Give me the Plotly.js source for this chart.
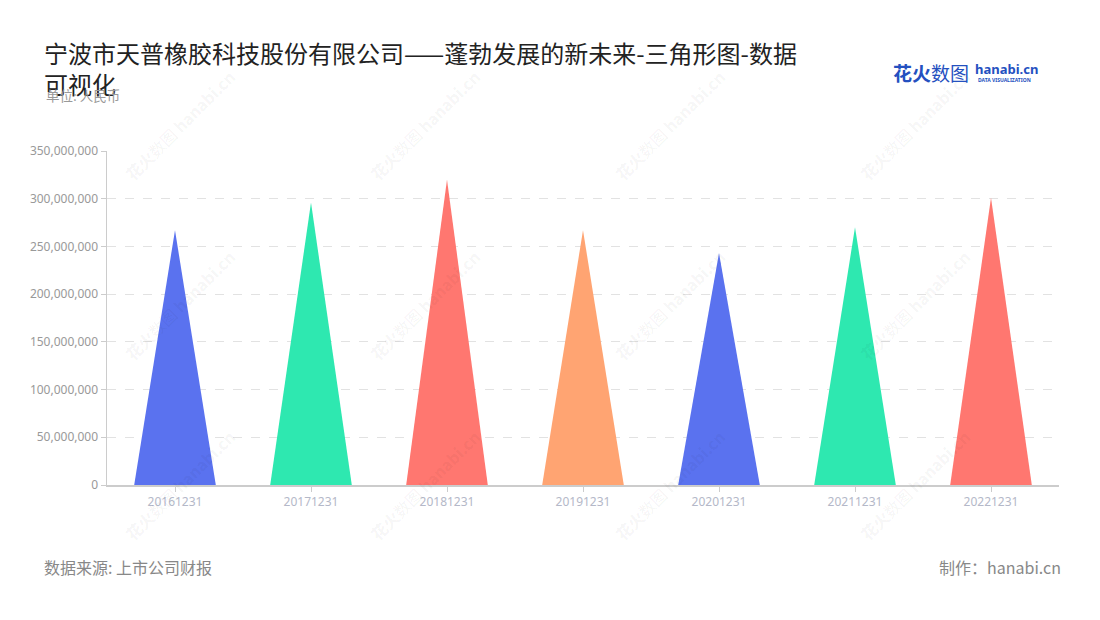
<!DOCTYPE html>
<html>
<head>
<meta charset="utf-8">
<script src="https://cdn.plot.ly/plotly-3.0.1.min.js"></script>
<style>
html,body{margin:0;padding:0;background:#fff;}
#chart{width:1100px;height:620px;}
</style>
</head>
<body>
<div id="chart"></div>
<script>
// ---- data ----
const categories = ["20161231","20171231","20181231","20191231","20201231","20211231","20221231"];
const values = [267000000, 296000000, 320000000, 267000000, 243000000, 270000000, 301000000];
const colors = ["#5a72ef","#2ee8b0","#ff7770","#ffa472","#5a72ef","#2ee8b0","#ff7770"];
const yTicks = [0,50000000,100000000,150000000,200000000,250000000,300000000,350000000];

const titleText = "宁波市天普橡胶科技股份有限公司——蓬勃发展的新未来-三角形图-数据<br>可视化";
const unitText = "单位: 人民币";
const sourceText = "数据来源: 上市公司财报";
const makerText = "制作：hanabi.cn";

// ---- layout geometry ----
const W = 1100, H = 620;
const L = 107, R = 1059, T = 151, B = 485;
const px = x => (x - L) / (R - L);
const py = y => (B - y) / (B - T);
const halfW = 0.3;

const traces = categories.map((c, i) => ({
  type: "scatter",
  mode: "lines",
  x: [i - halfW, i, i + halfW, i - halfW],
  y: [0, values[i], 0, 0],
  fill: "toself",
  fillcolor: colors[i],
  line: {width: 0, color: colors[i]},
  hoverinfo: "skip",
  showlegend: false
}));

const annotations = [];
// watermarks
const wmCols = [180, 425, 670, 915];
const wmRows = [125, 305, 485];
wmRows.forEach(r => wmCols.forEach(c => {
  annotations.push({
    xref: "paper", yref: "paper", x: px(c), y: py(r),
    text: "<b>花火</b>数图 <b>hanabi.cn</b>",
    showarrow: false, textangle: -45,
    font: {family: "Noto Sans CJK SC, Noto Sans", size: 16, color: "rgba(0,0,0,0.055)"},
    xanchor: "center", yanchor: "middle"
  });
}));
// unit
annotations.push({xref:"paper", yref:"paper", x: px(44), y: py(95), xanchor:"left", yanchor:"middle",
  text: unitText, showarrow:false, font:{family:"Noto Sans CJK SC", size:13.5, color:"#999999"}});
// footer
annotations.push({xref:"paper", yref:"paper", x: px(42), y: py(567), xanchor:"left", yanchor:"middle",
  text: sourceText, showarrow:false, font:{family:"Noto Sans CJK SC", size:16, color:"#888888"}});
annotations.push({xref:"paper", yref:"paper", x: px(1063), y: py(567), xanchor:"right", yanchor:"middle",
  text: makerText, showarrow:false, font:{family:"Noto Sans CJK SC", size:16, color:"#888888"}});
// logo
annotations.push({xref:"paper", yref:"paper", x: px(891), y: py(72), xanchor:"left", yanchor:"middle",
  text: "<b>花火</b>数图", showarrow:false, font:{family:"Noto Sans CJK SC", size:19, color:"#2450c0"}});
annotations.push({xref:"paper", yref:"paper", x: px(973), y: py(69), xanchor:"left", yanchor:"middle",
  text: "<b>hanabi.cn</b>", showarrow:false, font:{family:"Noto Sans", size:13, color:"#2450c0"}});
annotations.push({xref:"paper", yref:"paper", x: px(976), y: py(80), xanchor:"left", yanchor:"middle",
  text: "<b>DATA VISUALIZATION</b>", showarrow:false, font:{family:"Noto Sans", size:5, color:"#2450c0"}});

const layout = {
  width: W, height: H,
  paper_bgcolor: "#ffffff", plot_bgcolor: "#ffffff",
  margin: {l: L, r: W - R, t: T, b: H - B, pad: 0},
  title: {
    text: titleText, xref: "container", yref: "container",
    x: 44 / W, xanchor: "left", y: 1 - 63 / H, yanchor: "top",
    font: {family: "Noto Sans CJK SC", size: 24, color: "#222222"}
  },
  xaxis: {
    range: [-0.5, categories.length - 0.5],
    tickmode: "array", tickvals: categories.map((c, i) => i), ticktext: categories,
    showgrid: false, zeroline: false,
    showline: true, linecolor: "#cccccc", linewidth: 1.5,
    ticks: "outside", ticklen: 5, tickcolor: "#cccccc",
    tickfont: {family: "Noto Sans", size: 12, color: "#b4b8c8"},
    fixedrange: true
  },
  yaxis: {
    range: [0, 350000000],
    tickmode: "array", tickvals: yTicks,
    tickformat: ",d",
    showgrid: true, gridcolor: "#e2e2e2", griddash: "dash", gridwidth: 1,
    zeroline: false,
    showline: true, linecolor: "#cccccc", linewidth: 1.5,
    ticks: "outside", ticklen: 5, tickcolor: "#cccccc",
    tickfont: {family: "Noto Sans", size: 12, color: "#999999"},
    fixedrange: true
  },
  annotations: annotations,
  showlegend: false
};

Plotly.newPlot("chart", traces, layout, {displayModeBar: false, staticPlot: true});
</script>
</body>
</html>
